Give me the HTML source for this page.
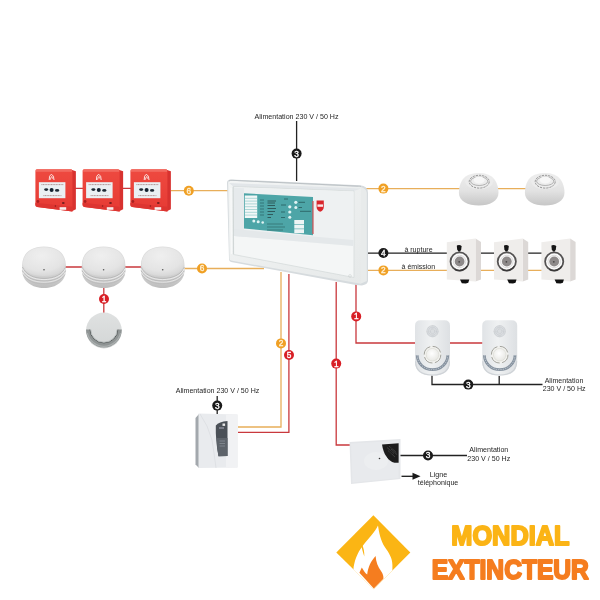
<!DOCTYPE html>
<html><head><meta charset="utf-8">
<style>
html,body{margin:0;padding:0;background:#fff;}
svg{display:block;}
text{font-family:"Liberation Sans",sans-serif;}
</style></head>
<body>
<svg width="600" height="600" viewBox="0 0 600 600">
<defs>
  <radialGradient id="gDome" cx="0.45" cy="0.3" r="0.75">
    <stop offset="0" stop-color="#efefef"/>
    <stop offset="0.7" stop-color="#e4e4e4"/>
    <stop offset="1" stop-color="#d4d4d4"/>
  </radialGradient>
  <linearGradient id="gSmokeBase" x1="0" y1="0" x2="0" y2="1">
    <stop offset="0" stop-color="#dedede"/>
    <stop offset="0.7" stop-color="#d0d0d0"/>
    <stop offset="1" stop-color="#bdbdbd"/>
  </linearGradient>
  <linearGradient id="gPanel" x1="0" y1="0" x2="1" y2="1">
    <stop offset="0" stop-color="#f3f5f5"/>
    <stop offset="1" stop-color="#e6e9e9"/>
  </linearGradient>
  <linearGradient id="gHeat" x1="0" y1="0" x2="0" y2="1">
    <stop offset="0" stop-color="#eeeeee"/>
    <stop offset="0.55" stop-color="#e2e2e2"/>
    <stop offset="1" stop-color="#c6c6c6"/>
  </linearGradient>
  <linearGradient id="gSF" x1="0" y1="0" x2="1" y2="0">
    <stop offset="0" stop-color="#e0e3e6"/>
    <stop offset="0.45" stop-color="#eff1f2"/>
    <stop offset="1" stop-color="#dde0e3"/>
  </linearGradient>
  <linearGradient id="gCP" x1="0" y1="0" x2="0" y2="1">
    <stop offset="0" stop-color="#ee4a40"/>
    <stop offset="1" stop-color="#e63a34"/>
  </linearGradient>
  <linearGradient id="gSnd" x1="0" y1="0" x2="0" y2="1">
    <stop offset="0" stop-color="#dfe1e1"/>
    <stop offset="1" stop-color="#d3d6d6"/>
  </linearGradient>
  <radialGradient id="gLens" cx="0.45" cy="0.4" r="0.6">
    <stop offset="0" stop-color="#ffffff"/>
    <stop offset="1" stop-color="#e8e8e4"/>
  </radialGradient>

  
  
  
  
  </defs>
<g style="filter:blur(0.5px)">

<g fill="none" stroke-width="1.3">
  <path d="M296.6 121 V181" stroke="#222222"/>
  <path d="M73 188.4 H83 M122 188.4 H131" stroke="#c9383d"/>
  <path d="M171 190.7 H228" stroke="#e8ae5a"/>
  <path d="M65 267 H83 M125 267 H142" stroke="#c9383d"/>
  <path d="M184 268.5 H264" stroke="#e8ae5a"/>
  <path d="M103.8 287 V313" stroke="#c9383d"/>
  <path d="M366 188.6 H460 M497 188.6 H526" stroke="#e8ae5a"/>
  <path d="M366 253.2 H448 M480 253.2 H495 M527 253.2 H542" stroke="#222222"/>
  <path d="M366 270.4 H448 M480 270.4 H495 M527 270.4 H542" stroke="#e8ae5a"/>
  <path d="M356 284 V343 H416 M449 343 H483" stroke="#c9383d"/>
  <path d="M432 375 V384.5 H542.5 M499.2 376 V384.5" stroke="#222222"/>
  <path d="M336.2 282 V445 H351" stroke="#c9383d"/>
  <path d="M281 272 V427 H238" stroke="#e8ae5a"/>
  <path d="M288.9 274 V432.3 H238" stroke="#c9383d"/>
  <path d="M217.2 396 V414" stroke="#222222"/>
  <path d="M400 455.5 H467" stroke="#222222"/>
  <path d="M401.5 476.3 H414" stroke="#1a1a1a"/>
</g>
<path d="M412.5 472.8 L420.5 476.3 L412.5 479.8 Z" fill="#1a1a1a"/>

<g transform="translate(35.4 169.2)">
    <path d="M36 0.5 L40.5 2 L40.5 40 L36.5 42 Z" fill="#d8322f"/>
    <path d="M1.6 0 H35.4 Q37 0 37 1.6 V42.2 L1.8 37.8 Q0 37.5 0 35.8 V1.6 Q0 0 1.6 0 Z" fill="url(#gCP)"/>
    <rect x="0.6" y="0.4" width="36" height="2.2" fill="#f26a60"/>
    <path d="M0 33.6 L37 37.6 V42.2 L1.8 37.8 Q0 37.5 0 35.8 Z" fill="#dd3531"/>
    <rect x="3.5" y="13" width="26.5" height="16" fill="#eaf0f3"/>
    <path d="M6 15.4 H28 M8 26.4 H26" stroke="#9a6a6a" stroke-width="0.7" stroke-dasharray="1.1 0.5"/>
    <ellipse cx="10.8" cy="20.4" rx="2" ry="1.3" fill="#1e2a35"/>
    <circle cx="16.2" cy="20.7" r="2" fill="#142230"/>
    <ellipse cx="21.7" cy="21.2" rx="2.1" ry="1.3" fill="#1e2a35"/>
    <path d="M13.8 10.8 L14.2 7 L16 5 L18 7 L18.6 10.8" fill="none" stroke="#fbe4e2" stroke-width="1"/>
    <path d="M15 10.5 Q15.3 8 16.4 7.2 Q16.4 9 17.6 9.4" fill="none" stroke="#fbe4e2" stroke-width="0.9"/>
    <circle cx="2.5" cy="32.3" r="1.4" fill="#a82020"/>
    <rect x="26.8" y="32.8" width="2.2" height="2" fill="#7a2020"/>
    <rect x="24.2" y="38" width="6.6" height="2.6" fill="#f8f0f0"/>
    <circle cx="20" cy="36.8" r="0.8" fill="#8a1c1c"/></g>
<g transform="translate(82.6 169.2)">
    <path d="M36 0.5 L40.5 2 L40.5 40 L36.5 42 Z" fill="#d8322f"/>
    <path d="M1.6 0 H35.4 Q37 0 37 1.6 V42.2 L1.8 37.8 Q0 37.5 0 35.8 V1.6 Q0 0 1.6 0 Z" fill="url(#gCP)"/>
    <rect x="0.6" y="0.4" width="36" height="2.2" fill="#f26a60"/>
    <path d="M0 33.6 L37 37.6 V42.2 L1.8 37.8 Q0 37.5 0 35.8 Z" fill="#dd3531"/>
    <rect x="3.5" y="13" width="26.5" height="16" fill="#eaf0f3"/>
    <path d="M6 15.4 H28 M8 26.4 H26" stroke="#9a6a6a" stroke-width="0.7" stroke-dasharray="1.1 0.5"/>
    <ellipse cx="10.8" cy="20.4" rx="2" ry="1.3" fill="#1e2a35"/>
    <circle cx="16.2" cy="20.7" r="2" fill="#142230"/>
    <ellipse cx="21.7" cy="21.2" rx="2.1" ry="1.3" fill="#1e2a35"/>
    <path d="M13.8 10.8 L14.2 7 L16 5 L18 7 L18.6 10.8" fill="none" stroke="#fbe4e2" stroke-width="1"/>
    <path d="M15 10.5 Q15.3 8 16.4 7.2 Q16.4 9 17.6 9.4" fill="none" stroke="#fbe4e2" stroke-width="0.9"/>
    <circle cx="2.5" cy="32.3" r="1.4" fill="#a82020"/>
    <rect x="26.8" y="32.8" width="2.2" height="2" fill="#7a2020"/>
    <rect x="24.2" y="38" width="6.6" height="2.6" fill="#f8f0f0"/>
    <circle cx="20" cy="36.8" r="0.8" fill="#8a1c1c"/></g>
<g transform="translate(130.4 169.2)">
    <path d="M36 0.5 L40.5 2 L40.5 40 L36.5 42 Z" fill="#d8322f"/>
    <path d="M1.6 0 H35.4 Q37 0 37 1.6 V42.2 L1.8 37.8 Q0 37.5 0 35.8 V1.6 Q0 0 1.6 0 Z" fill="url(#gCP)"/>
    <rect x="0.6" y="0.4" width="36" height="2.2" fill="#f26a60"/>
    <path d="M0 33.6 L37 37.6 V42.2 L1.8 37.8 Q0 37.5 0 35.8 Z" fill="#dd3531"/>
    <rect x="3.5" y="13" width="26.5" height="16" fill="#eaf0f3"/>
    <path d="M6 15.4 H28 M8 26.4 H26" stroke="#9a6a6a" stroke-width="0.7" stroke-dasharray="1.1 0.5"/>
    <ellipse cx="10.8" cy="20.4" rx="2" ry="1.3" fill="#1e2a35"/>
    <circle cx="16.2" cy="20.7" r="2" fill="#142230"/>
    <ellipse cx="21.7" cy="21.2" rx="2.1" ry="1.3" fill="#1e2a35"/>
    <path d="M13.8 10.8 L14.2 7 L16 5 L18 7 L18.6 10.8" fill="none" stroke="#fbe4e2" stroke-width="1"/>
    <path d="M15 10.5 Q15.3 8 16.4 7.2 Q16.4 9 17.6 9.4" fill="none" stroke="#fbe4e2" stroke-width="0.9"/>
    <circle cx="2.5" cy="32.3" r="1.4" fill="#a82020"/>
    <rect x="26.8" y="32.8" width="2.2" height="2" fill="#7a2020"/>
    <rect x="24.2" y="38" width="6.6" height="2.6" fill="#f8f0f0"/>
    <circle cx="20" cy="36.8" r="0.8" fill="#8a1c1c"/></g>
<g transform="translate(44 267.2)">
    <path d="M-21.8 -2 C-21.8 -14 -13 -20.6 0 -20.6 C13 -20.6 21.8 -14 21.8 -2 L21.8 3 C21.8 14 12 20.8 0 20.8 C-12 20.8 -21.8 14 -21.8 3 Z" fill="url(#gSmokeBase)"/>
    <path d="M-21.2 -2.5 C-21.2 -13.5 -12.5 -19.9 0 -19.9 C12.5 -19.9 21.2 -13.5 21.2 -2.5 C19.5 5 12 8.8 0 8.8 C-12 8.8 -19.5 5 -21.2 -2.5 Z" fill="url(#gDome)"/>
    <path d="M-21.6 0 C-18.5 7.5 -10 11.2 0 11.2 C10 11.2 18.5 7.5 21.6 0" fill="none" stroke="#b2b2b2" stroke-width="0.8"/>
    <path d="M-21.6 3.5 C-18.5 10.5 -10 13.9 0 13.9 C10 13.9 18.5 10.5 21.6 3.5" fill="none" stroke="#b6b6b6" stroke-width="0.8"/>
    <path d="M-20.8 7.5 C-17 13.5 -10 16.6 0 16.6 C10 16.6 17 13.5 20.8 7.5" fill="none" stroke="#bababa" stroke-width="0.8"/>
    <path d="M-21.6 1.2 C-18.5 8.7 -10 12.4 0 12.4 C10 12.4 18.5 8.7 21.6 1.2" fill="none" stroke="#f0f0f0" stroke-width="0.8"/>
    <path d="M-21.4 4.8 C-18 11.6 -10 15 0 15 C10 15 18 11.6 21.4 4.8" fill="none" stroke="#ececec" stroke-width="0.8"/>
    <circle cx="0" cy="2.5" r="0.8" fill="#555"/></g>
<g transform="translate(103.6 267.2)">
    <path d="M-21.8 -2 C-21.8 -14 -13 -20.6 0 -20.6 C13 -20.6 21.8 -14 21.8 -2 L21.8 3 C21.8 14 12 20.8 0 20.8 C-12 20.8 -21.8 14 -21.8 3 Z" fill="url(#gSmokeBase)"/>
    <path d="M-21.2 -2.5 C-21.2 -13.5 -12.5 -19.9 0 -19.9 C12.5 -19.9 21.2 -13.5 21.2 -2.5 C19.5 5 12 8.8 0 8.8 C-12 8.8 -19.5 5 -21.2 -2.5 Z" fill="url(#gDome)"/>
    <path d="M-21.6 0 C-18.5 7.5 -10 11.2 0 11.2 C10 11.2 18.5 7.5 21.6 0" fill="none" stroke="#b2b2b2" stroke-width="0.8"/>
    <path d="M-21.6 3.5 C-18.5 10.5 -10 13.9 0 13.9 C10 13.9 18.5 10.5 21.6 3.5" fill="none" stroke="#b6b6b6" stroke-width="0.8"/>
    <path d="M-20.8 7.5 C-17 13.5 -10 16.6 0 16.6 C10 16.6 17 13.5 20.8 7.5" fill="none" stroke="#bababa" stroke-width="0.8"/>
    <path d="M-21.6 1.2 C-18.5 8.7 -10 12.4 0 12.4 C10 12.4 18.5 8.7 21.6 1.2" fill="none" stroke="#f0f0f0" stroke-width="0.8"/>
    <path d="M-21.4 4.8 C-18 11.6 -10 15 0 15 C10 15 18 11.6 21.4 4.8" fill="none" stroke="#ececec" stroke-width="0.8"/>
    <circle cx="0" cy="2.5" r="0.8" fill="#555"/></g>
<g transform="translate(162.7 267.2)">
    <path d="M-21.8 -2 C-21.8 -14 -13 -20.6 0 -20.6 C13 -20.6 21.8 -14 21.8 -2 L21.8 3 C21.8 14 12 20.8 0 20.8 C-12 20.8 -21.8 14 -21.8 3 Z" fill="url(#gSmokeBase)"/>
    <path d="M-21.2 -2.5 C-21.2 -13.5 -12.5 -19.9 0 -19.9 C12.5 -19.9 21.2 -13.5 21.2 -2.5 C19.5 5 12 8.8 0 8.8 C-12 8.8 -19.5 5 -21.2 -2.5 Z" fill="url(#gDome)"/>
    <path d="M-21.6 0 C-18.5 7.5 -10 11.2 0 11.2 C10 11.2 18.5 7.5 21.6 0" fill="none" stroke="#b2b2b2" stroke-width="0.8"/>
    <path d="M-21.6 3.5 C-18.5 10.5 -10 13.9 0 13.9 C10 13.9 18.5 10.5 21.6 3.5" fill="none" stroke="#b6b6b6" stroke-width="0.8"/>
    <path d="M-20.8 7.5 C-17 13.5 -10 16.6 0 16.6 C10 16.6 17 13.5 20.8 7.5" fill="none" stroke="#bababa" stroke-width="0.8"/>
    <path d="M-21.6 1.2 C-18.5 8.7 -10 12.4 0 12.4 C10 12.4 18.5 8.7 21.6 1.2" fill="none" stroke="#f0f0f0" stroke-width="0.8"/>
    <path d="M-21.4 4.8 C-18 11.6 -10 15 0 15 C10 15 18 11.6 21.4 4.8" fill="none" stroke="#ececec" stroke-width="0.8"/>
    <circle cx="0" cy="2.5" r="0.8" fill="#555"/></g>
<g transform="translate(478.6 189.6)">
    <path d="M-19.7 3 C-19.7 -4 -17 -10 -13 -13 C-9 -16 -4 -16.3 0.6 -16.3 C5 -16.3 9 -16 13 -13 C17 -10 19.9 -4 19.9 3 C19.9 12 11 15.9 0.3 15.9 C-11 15.9 -19.7 12 -19.7 3 Z" fill="url(#gHeat)"/>
    <ellipse cx="0.6" cy="-8.3" rx="14" ry="8" fill="#ececec"/>
    <ellipse cx="0.6" cy="-7.9" rx="10" ry="6.4" fill="none" stroke="#7e7e7e" stroke-width="0.8" stroke-dasharray="2.2 1"/>
    <ellipse cx="0.6" cy="-8.4" rx="8.6" ry="4.3" fill="none" stroke="#9a9a9a" stroke-width="0.7"/>
    <ellipse cx="0.6" cy="-9.6" rx="5.5" ry="3.4" fill="#f7f7f7"/></g>
<g transform="translate(544.6 189.6)">
    <path d="M-19.7 3 C-19.7 -4 -17 -10 -13 -13 C-9 -16 -4 -16.3 0.6 -16.3 C5 -16.3 9 -16 13 -13 C17 -10 19.9 -4 19.9 3 C19.9 12 11 15.9 0.3 15.9 C-11 15.9 -19.7 12 -19.7 3 Z" fill="url(#gHeat)"/>
    <ellipse cx="0.6" cy="-8.3" rx="14" ry="8" fill="#ececec"/>
    <ellipse cx="0.6" cy="-7.9" rx="10" ry="6.4" fill="none" stroke="#7e7e7e" stroke-width="0.8" stroke-dasharray="2.2 1"/>
    <ellipse cx="0.6" cy="-8.4" rx="8.6" ry="4.3" fill="none" stroke="#9a9a9a" stroke-width="0.7"/>
    <ellipse cx="0.6" cy="-9.6" rx="5.5" ry="3.4" fill="#f7f7f7"/></g>
<g transform="translate(446.8 239)">
    <path d="M28.7 -0.5 L34.2 3 L34.2 40.5 L28.7 42.5 Z" fill="#dcd8d6"/>
    <path d="M0 3.2 L28.7 -0.5 L28.7 42.5 L0 40.5 Z" fill="#efedeb"/>
    <circle cx="12.8" cy="22.5" r="9.9" fill="#fbfbfb"/>
    <circle cx="12.8" cy="22.5" r="9.1" fill="none" stroke="#555353" stroke-width="1.8"/>
    <path d="M20.5 27 A9 9 0 0 1 8 30.3" fill="none" stroke="#3a3838" stroke-width="1.4"/>
    <circle cx="12.8" cy="22.5" r="4.9" fill="#8e8a8a"/>
    <circle cx="12.8" cy="22.5" r="6.2" fill="none" stroke="#dedcdc" stroke-width="1"/>
    <circle cx="12.4" cy="22.8" r="0.9" fill="#4a4848"/>
    <path d="M10 6.8 Q10 6 12.4 6 Q14.8 6 14.8 7.5 L14.4 10.6 L13.3 12.6 H11.6 L10.4 10.6 Z" fill="#151515"/>
    <path d="M13.2 40.4 L22.5 40.6 L21.5 43.8 L19 44.6 L15 44.3 Z" fill="#111"/></g>
<g transform="translate(494 239)">
    <path d="M28.7 -0.5 L34.2 3 L34.2 40.5 L28.7 42.5 Z" fill="#dcd8d6"/>
    <path d="M0 3.2 L28.7 -0.5 L28.7 42.5 L0 40.5 Z" fill="#efedeb"/>
    <circle cx="12.8" cy="22.5" r="9.9" fill="#fbfbfb"/>
    <circle cx="12.8" cy="22.5" r="9.1" fill="none" stroke="#555353" stroke-width="1.8"/>
    <path d="M20.5 27 A9 9 0 0 1 8 30.3" fill="none" stroke="#3a3838" stroke-width="1.4"/>
    <circle cx="12.8" cy="22.5" r="4.9" fill="#8e8a8a"/>
    <circle cx="12.8" cy="22.5" r="6.2" fill="none" stroke="#dedcdc" stroke-width="1"/>
    <circle cx="12.4" cy="22.8" r="0.9" fill="#4a4848"/>
    <path d="M10 6.8 Q10 6 12.4 6 Q14.8 6 14.8 7.5 L14.4 10.6 L13.3 12.6 H11.6 L10.4 10.6 Z" fill="#151515"/>
    <path d="M13.2 40.4 L22.5 40.6 L21.5 43.8 L19 44.6 L15 44.3 Z" fill="#111"/></g>
<g transform="translate(541.4 239)">
    <path d="M28.7 -0.5 L34.2 3 L34.2 40.5 L28.7 42.5 Z" fill="#dcd8d6"/>
    <path d="M0 3.2 L28.7 -0.5 L28.7 42.5 L0 40.5 Z" fill="#efedeb"/>
    <circle cx="12.8" cy="22.5" r="9.9" fill="#fbfbfb"/>
    <circle cx="12.8" cy="22.5" r="9.1" fill="none" stroke="#555353" stroke-width="1.8"/>
    <path d="M20.5 27 A9 9 0 0 1 8 30.3" fill="none" stroke="#3a3838" stroke-width="1.4"/>
    <circle cx="12.8" cy="22.5" r="4.9" fill="#8e8a8a"/>
    <circle cx="12.8" cy="22.5" r="6.2" fill="none" stroke="#dedcdc" stroke-width="1"/>
    <circle cx="12.4" cy="22.8" r="0.9" fill="#4a4848"/>
    <path d="M10 6.8 Q10 6 12.4 6 Q14.8 6 14.8 7.5 L14.4 10.6 L13.3 12.6 H11.6 L10.4 10.6 Z" fill="#151515"/>
    <path d="M13.2 40.4 L22.5 40.6 L21.5 43.8 L19 44.6 L15 44.3 Z" fill="#111"/></g>
<g transform="translate(415 320.2)">
    <path d="M0 5.5 Q0 0 5.5 0 H29.5 Q35 0 35 5.5 V41 Q35 55.5 17.5 55.5 Q0 55.5 0 41 Z" fill="url(#gSF)"/>
    <path d="M0.6 41 Q0.6 54.8 17.5 54.8 Q34.4 54.8 34.4 41" fill="none" stroke="#cfd3d7" stroke-width="1.2"/>
    <circle cx="17.5" cy="11" r="6" fill="#dadde0"/>
    <circle cx="17.5" cy="11" r="5.6" fill="none" stroke="#b4b9be" stroke-width="0.6" stroke-dasharray="0.6 0.6"/>
    <circle cx="17.5" cy="11" r="4" fill="none" stroke="#b4b9be" stroke-width="0.6" stroke-dasharray="0.6 0.6"/>
    <circle cx="17.5" cy="11" r="2.3" fill="none" stroke="#b4b9be" stroke-width="0.6" stroke-dasharray="0.6 0.6"/>
    <path d="M2.2 35 A15.3 14.5 0 0 0 32.8 35" fill="none" stroke="#8793a0" stroke-width="2.8" />
    <path d="M2.2 35 A15.3 14.5 0 0 0 32.8 35" fill="none" stroke="#c6cdd4" stroke-width="1" stroke-dasharray="1.2 1.2"/>
    <circle cx="17.5" cy="34.5" r="8.7" fill="#f1f1ee"/>
    <circle cx="17.5" cy="34.5" r="8.3" fill="none" stroke="#8f8f88" stroke-width="0.8" stroke-dasharray="10.5 2.5"/>
    <circle cx="17.5" cy="34.5" r="6.3" fill="url(#gLens)" stroke="#d4d4cc" stroke-width="0.5"/></g>
<g transform="translate(482.2 320.2)">
    <path d="M0 5.5 Q0 0 5.5 0 H29.5 Q35 0 35 5.5 V41 Q35 55.5 17.5 55.5 Q0 55.5 0 41 Z" fill="url(#gSF)"/>
    <path d="M0.6 41 Q0.6 54.8 17.5 54.8 Q34.4 54.8 34.4 41" fill="none" stroke="#cfd3d7" stroke-width="1.2"/>
    <circle cx="17.5" cy="11" r="6" fill="#dadde0"/>
    <circle cx="17.5" cy="11" r="5.6" fill="none" stroke="#b4b9be" stroke-width="0.6" stroke-dasharray="0.6 0.6"/>
    <circle cx="17.5" cy="11" r="4" fill="none" stroke="#b4b9be" stroke-width="0.6" stroke-dasharray="0.6 0.6"/>
    <circle cx="17.5" cy="11" r="2.3" fill="none" stroke="#b4b9be" stroke-width="0.6" stroke-dasharray="0.6 0.6"/>
    <path d="M2.2 35 A15.3 14.5 0 0 0 32.8 35" fill="none" stroke="#8793a0" stroke-width="2.8" />
    <path d="M2.2 35 A15.3 14.5 0 0 0 32.8 35" fill="none" stroke="#c6cdd4" stroke-width="1" stroke-dasharray="1.2 1.2"/>
    <circle cx="17.5" cy="34.5" r="8.7" fill="#f1f1ee"/>
    <circle cx="17.5" cy="34.5" r="8.3" fill="none" stroke="#8f8f88" stroke-width="0.8" stroke-dasharray="10.5 2.5"/>
    <circle cx="17.5" cy="34.5" r="6.3" fill="url(#gLens)" stroke="#d4d4cc" stroke-width="0.5"/></g>
<g>
  <circle cx="103.9" cy="330.5" r="17.9" fill="url(#gSnd)"/>
  <path d="M86 329.6 A17.9 17.9 0 0 0 121.8 329.6 L117.8 329.6 A13.9 13.3 0 0 1 90 329.6 Z" fill="#8f9494"/>
  <path d="M87.3 333 A17 17 0 0 0 120.5 333" fill="none" stroke="#a9aeae" stroke-width="1.2"/>
  <path d="M90 329.6 A13.9 13.3 0 0 0 117.8 329.6" fill="none" stroke="#555a5a" stroke-width="1"/>
  <path d="M90.8 329.6 A13.1 12.6 0 0 0 117 329.6" fill="none" stroke="#b9bebe" stroke-width="0.9"/>
</g>
<g>
  <path d="M195.5 418 L199 414 L199 468 L195.5 464.5 Z" fill="#a3a8ad"/>
  <path d="M198.5 413.6 L237.5 414.6 L237.5 467.4 L198.5 468 Z" fill="#e9ebee"/>
  <path d="M226 414.5 L237.5 414.6 L237.5 467.4 L226 467.6 Z" fill="#f1f2f4"/>
  <path d="M200 414 Q208 425 212 440 Q214 452 216 468" fill="none" stroke="#dadde1" stroke-width="0.8"/>
  <path d="M215.8 425.6 Q219 421.5 227.5 421 L227.5 456 L218.5 456.2 Q215.5 442 215.8 425.6 Z" fill="#4a5057"/>
  <path d="M216.8 438 L227.5 438 L227.5 456 L218.5 456.2 Q216.8 448 216.8 438 Z" fill="#5d636a"/>
  <rect x="222.5" y="423.5" width="2.6" height="2.4" fill="#e8e8e8"/>
  <rect x="219" y="427.5" width="5" height="1" fill="#aab"/>
  <path d="M219.5 441 H225 M219.5 443.5 H225 M219.5 446 H225" stroke="#8d949b" stroke-width="0.7"/>
</g>
<g>
  <path d="M349.5 442 L400.5 439 L400.5 479 L351 484 Z" fill="#e4e6e9"/>
  <path d="M351 443.5 L398.5 440.8 L398.5 478 L352.5 482.5 Z" fill="#e8eaed"/>
  <path d="M382 444.5 L398.6 443.2 L398.6 462.8 L394.5 462.8 Q384.5 460 382 444.5 Z" fill="#1c1c1c"/>
  <path d="M387 447.5 L394 453.5 M389.5 446.5 L396.5 452.5 M388.5 451 L395 457 M391.5 449.5 L397.5 455" stroke="#777" stroke-width="0.7" stroke-dasharray="0.7 0.9"/>
  <circle cx="379.5" cy="458.5" r="0.8" fill="#333"/>
  <ellipse cx="376" cy="461" rx="12" ry="9" fill="#eceef0"/>
  <circle cx="379.5" cy="458.5" r="0.8" fill="#333"/>
</g>
<g>
  <path d="M227 183 Q227 179.2 231 179.4 L360 185.3 Q368 186 368 193 L368 281 Q367.5 284.5 362 285.5 L356 285 L231 262 Q229 261.5 229 259 Z" fill="#d6dbde"/>
  <path d="M228.2 183 Q228.2 180.6 231.5 180.7 L361 187 L361 283.8 L231 260.6 Q229.5 260 229.5 258.5 Z" fill="url(#gPanel)"/>
  <path d="M229 181 Q230 180.2 232 180.3 L361 186.3" fill="none" stroke="#b9bec2" stroke-width="0.9"/>
  <path d="M229 183 L361 188.5 L354 191 L234 187 Z" fill="#e2e6e9"/>
  <path d="M358 186.5 Q366.5 187.5 366.8 193 L366.8 281 L361 283.6 L361 188 Z" fill="#e8ebeb"/>
  <path d="M233 186.5 L354 191 L354 277.5 L233.5 254.5 Z" fill="#f4f6f6" stroke="#d3d8d8" stroke-width="0.7"/>
  <path d="M231 188 L231.3 254" stroke="#fbfcfc" stroke-width="1"/>
  <path d="M233.3 187 L233.6 254" stroke="#cdd3d3" stroke-width="0.8"/>
  <path d="M234 187.5 L353.5 191.5 L353.5 246 L234 236 Z" fill="#eef1f2"/>
  <path d="M234 187.5 L244 188.3 L244 236.8 L234 236 Z" fill="#e6eaec"/>
  <path d="M234 229 L313 236.5 L353.5 240 L353.5 246 L234 236 Z" fill="#e4e8ea"/>
  <path d="M244 193.2 L313 197 L313 235.2 L244 228.5 Z" fill="#4da5a7"/>
  <path d="M312.3 201 L313.6 201 L313.6 234 L312.3 234 Z" fill="#c9575a"/>
  <path d="M244.8 195.5 H257.2 V218 H244.8 Z" fill="#f2f7f7"/>
  <path d="M244.8 198.3 H257.2 M244.8 201.1 H257.2 M244.8 203.9 H257.2 M244.8 206.7 H257.2 M244.8 209.5 H257.2 M244.8 212.3 H257.2 M244.8 215.1 H257.2" stroke="#7fbfc0" stroke-width="0.6"/>
  <path d="M260 200 H264 M260 203 H264 M260 206 H264 M260 209 H264 M260 212 H264 M260 215 H264" stroke="#2f6a6c" stroke-width="0.8"/>
  <path d="M267.5 201 H276 M267.5 203 H275 M267.5 205.5 H275 M267.5 208.5 H276 M267.5 211.5 H275 M267.5 214.5 H273 M267.5 217.5 H271" stroke="#2b5253" stroke-width="0.9"/>
  <path d="M267 224 H283 M267 227 H285 M267 230 H283" stroke="#2f6a6c" stroke-width="0.7"/>
  <circle cx="295.8" cy="202.3" r="1.6" fill="#dff2f2"/>
  <circle cx="295.8" cy="207.5" r="1.5" fill="#dff2f2"/>
  <circle cx="289.8" cy="206.8" r="1.6" fill="#dff2f2"/>
  <circle cx="289.8" cy="212" r="1.6" fill="#dff2f2"/>
  <circle cx="289.8" cy="217.3" r="1.5" fill="#dff2f2"/>
  <circle cx="253.8" cy="221" r="1.5" fill="#dff2f2"/>
  <circle cx="258.2" cy="221.8" r="1.5" fill="#dff2f2"/>
  <circle cx="262.7" cy="222.5" r="1.3" fill="#dff2f2"/>
  <path d="M298.5 202.3 H305 M298.5 207.5 H302 M300 211.3 H311 M281 205 H286 M281 212 H285 M281 217.5 H285 M284 199 H288" stroke="#2f6a6c" stroke-width="1"/>
  <rect x="294.3" y="220" width="9.7" height="4" fill="#eef5f5"/>
  <rect x="294.3" y="224.6" width="9.7" height="4" fill="#eef5f5"/>
  <rect x="294.3" y="229.2" width="9.7" height="4" fill="#eef5f5"/>
  <path d="M316.6 200.4 H323.8 V207 Q323.8 210.3 320.2 211.8 Q316.6 210.3 316.6 207 Z" fill="#d9262c"/>
  <path d="M317.4 204.4 H323 V206.8 H317.4 Z" fill="#fbe9e9"/>
  <circle cx="350" cy="276" r="1.4" fill="none" stroke="#cdd2d2" stroke-width="0.6"/>
</g>
<circle cx="296.6" cy="153.6" r="5" fill="#1a1a1a"/><text x="296.6" y="156.55" text-anchor="middle" font-size="8.3" fill="#ffffff" stroke="#ffffff" stroke-width="0.35">3</text>
<circle cx="188.8" cy="190.7" r="5" fill="#f0a024"/><text x="188.8" y="193.65" text-anchor="middle" font-size="8.3" fill="#fff1d6" stroke="#fff1d6" stroke-width="0.35">6</text>
<circle cx="202" cy="268.5" r="5" fill="#f0a024"/><text x="202" y="271.45" text-anchor="middle" font-size="8.3" fill="#fff1d6" stroke="#fff1d6" stroke-width="0.35">6</text>
<circle cx="104" cy="299" r="5" fill="#d81f26"/><text x="104" y="301.95" text-anchor="middle" font-size="8.3" fill="#ffffff" stroke="#ffffff" stroke-width="0.35">1</text>
<circle cx="383.4" cy="188.6" r="5" fill="#f0a024"/><text x="383.4" y="191.55" text-anchor="middle" font-size="8.3" fill="#fff1d6" stroke="#fff1d6" stroke-width="0.35">2</text>
<circle cx="383.4" cy="253" r="5" fill="#1a1a1a"/><text x="383.4" y="255.95" text-anchor="middle" font-size="8.3" fill="#ffffff" stroke="#ffffff" stroke-width="0.35">4</text>
<circle cx="383.4" cy="270.4" r="5" fill="#f0a024"/><text x="383.4" y="273.35" text-anchor="middle" font-size="8.3" fill="#fff1d6" stroke="#fff1d6" stroke-width="0.35">2</text>
<circle cx="356.2" cy="316.4" r="5" fill="#d81f26"/><text x="356.2" y="319.35" text-anchor="middle" font-size="8.3" fill="#ffffff" stroke="#ffffff" stroke-width="0.35">1</text>
<circle cx="468.3" cy="384.6" r="5" fill="#1a1a1a"/><text x="468.3" y="387.55" text-anchor="middle" font-size="8.3" fill="#ffffff" stroke="#ffffff" stroke-width="0.35">3</text>
<circle cx="336.2" cy="363.6" r="5" fill="#d81f26"/><text x="336.2" y="366.55" text-anchor="middle" font-size="8.3" fill="#ffffff" stroke="#ffffff" stroke-width="0.35">1</text>
<circle cx="281" cy="343.4" r="5" fill="#f0a024"/><text x="281" y="346.35" text-anchor="middle" font-size="8.3" fill="#fff1d6" stroke="#fff1d6" stroke-width="0.35">2</text>
<circle cx="289" cy="355" r="5" fill="#d81f26"/><text x="289" y="357.95" text-anchor="middle" font-size="8.3" fill="#ffffff" stroke="#ffffff" stroke-width="0.35">5</text>
<circle cx="217.2" cy="405.6" r="5" fill="#1a1a1a"/><text x="217.2" y="408.55" text-anchor="middle" font-size="8.3" fill="#ffffff" stroke="#ffffff" stroke-width="0.35">3</text>
<circle cx="428" cy="455.5" r="5" fill="#1a1a1a"/><text x="428" y="458.45" text-anchor="middle" font-size="8.3" fill="#ffffff" stroke="#ffffff" stroke-width="0.35">3</text>
<g>
<text x="254.50" y="118.8" font-size="8.0" fill="#262626" textLength="84.00" lengthAdjust="spacingAndGlyphs">Alimentation 230 V / 50 Hz</text>
<text x="175.70" y="392.6" font-size="8.0" fill="#262626" textLength="83.60" lengthAdjust="spacingAndGlyphs">Alimentation 230 V / 50 Hz</text>
<text x="404.40" y="251.7" font-size="8.0" fill="#262626" textLength="28.20" lengthAdjust="spacingAndGlyphs">à rupture</text>
<text x="401.60" y="269" font-size="8.0" fill="#262626" textLength="33.50" lengthAdjust="spacingAndGlyphs">à émission</text>
<text x="544.70" y="383.2" font-size="8.0" fill="#262626" textLength="38.60" lengthAdjust="spacingAndGlyphs">Alimentation</text>
<text x="542.70" y="391.4" font-size="8.0" fill="#262626" textLength="42.90" lengthAdjust="spacingAndGlyphs">230 V / 50 Hz</text>
<text x="469.30" y="452.4" font-size="8.0" fill="#262626" textLength="39.00" lengthAdjust="spacingAndGlyphs">Alimentation</text>
<text x="467.30" y="461" font-size="8.0" fill="#262626" textLength="43.00" lengthAdjust="spacingAndGlyphs">230 V / 50 Hz</text>
<text x="429.70" y="477" font-size="8.0" fill="#262626" textLength="17.60" lengthAdjust="spacingAndGlyphs">Ligne</text>
<text x="417.70" y="485.2" font-size="8.0" fill="#262626" textLength="40.60" lengthAdjust="spacingAndGlyphs">téléphonique</text>
</g>
<g>
  <path d="M373.4 515.3 L410.3 552.5 L373.7 589.2 L336.3 552.5 Z" fill="#fbb514"/>
  <path d="M353.4 569.5 C354 562 357 553 363 545.5 C368 538.5 375 532 378 525.4 C379 532 380.5 540 384.8 547 C389 553 392.4 558 392.4 565 L392.4 570.4 L373.7 589.2 Z" fill="#fff"/>
  <path d="M362.2 544.8 C363.6 548 364.5 552 364.3 556.5 C363 552.5 362.2 549 361.2 546.2 Z" fill="#fbb514"/>
  <path d="M361.8 567.4 C363.5 570 365 573 367.2 574.6 C368 567 371 561 375.6 556 C376 562 378 567 381 571 C383 574 383.6 576 383.4 578.8 L373.8 588.6 L359.4 572.8 Z" fill="#f57d1f"/>
  <text x="451.3" y="545.4" font-size="27.8" font-weight="bold" fill="#fbb416" stroke="#fbb416" stroke-width="2" stroke-linejoin="round" textLength="118.2" lengthAdjust="spacingAndGlyphs">MONDIAL</text>
  <text x="431.7" y="579.3" font-size="28" font-weight="bold" fill="#f57d1f" stroke="#f57d1f" stroke-width="2" stroke-linejoin="round" textLength="157.2" lengthAdjust="spacingAndGlyphs">EXTINCTEUR</text>
</g>
</g>
</svg>
</body></html>
